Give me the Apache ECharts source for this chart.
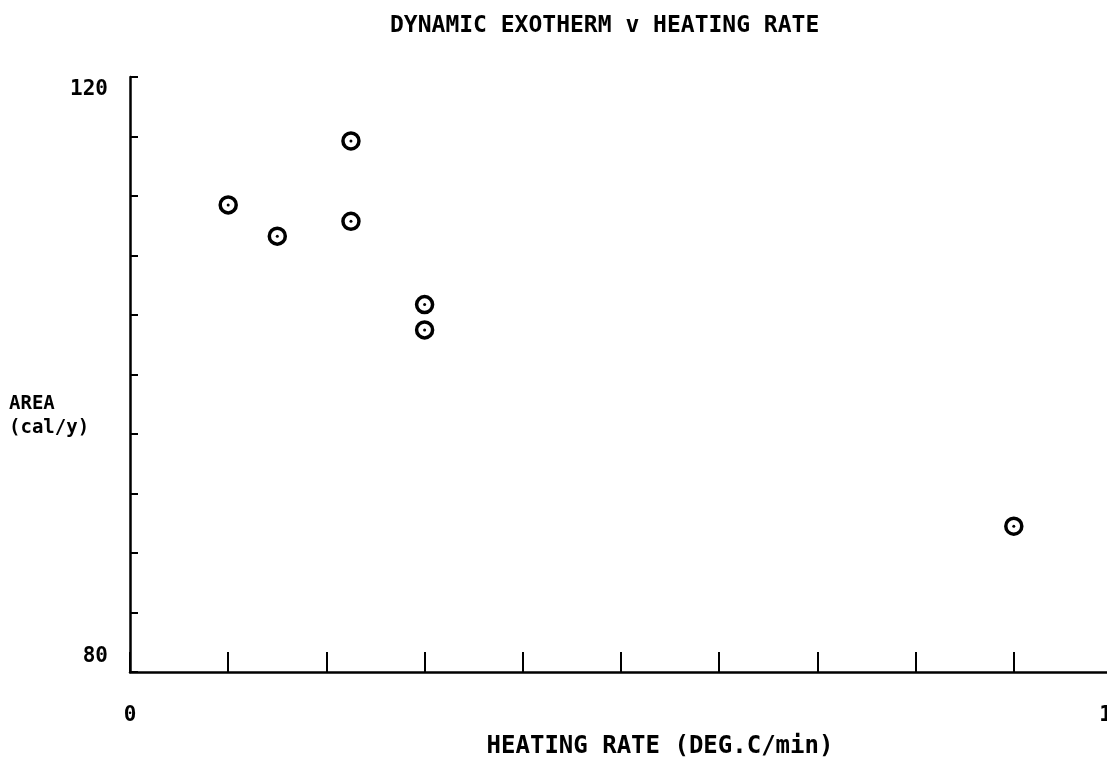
<!DOCTYPE html>
<html>
<head>
<meta charset="utf-8">
<style>
  html, body { margin: 0; padding: 0; background: #fff; }
  #chart { width: 1107px; height: 767px; }
</style>
<script src="https://cdn.jsdelivr.net/npm/echarts@6/dist/echarts.min.js"></script>
</head>
<body>
<div id="chart"></div>
<script>
// Heating rate (DEG.C/min) for each run
const heatingRate = [1, 1.5, 2.25, 2.25, 3, 3, 9];
// Exotherm area (cal/g) for each run
const exothermArea = [111.4, 109.3, 115.7, 110.3, 104.7, 103.0, 89.8];
// Tick values that carry a label
const xTickLabels = [0, 10];
const yTickLabels = [80, 120];

const points = heatingRate.map((x, i) => [x, exothermArea[i]]);
const FONT = '"DejaVu Sans Mono", monospace';

const chart = echarts.init(document.getElementById('chart'));
chart.setOption({
  animation: false,
  backgroundColor: '#fff',
  title: {
    text: 'DYNAMIC EXOTHERM v HEATING RATE',
    left: 385,
    top: 10,
    textStyle: { fontFamily: FONT, fontSize: 23, fontWeight: 'bold', color: '#000' }
  },
  grid: { left: 130, right: -5, top: 77, bottom: 95, outerBoundsMode: 'none', containLabel: false },
  xAxis: {
    type: 'value',
    min: 0, max: 10, interval: 1,
    name: 'HEATING RATE (DEG.C/min)',
    nameLocation: 'middle',
    nameGap: 63,
    nameMoveOverlap: false,
    nameTextStyle: { fontFamily: FONT, fontSize: 24, fontWeight: 'bold', color: '#000', padding: [0, 0, 0, 78] },
    axisLine: { lineStyle: { color: '#000', width: 2.5 } },
    axisTick: { inside: true, length: 20, lineStyle: { color: '#000', width: 2 } },
    axisLabel: {
      margin: 33,
      fontFamily: FONT, fontSize: 21, fontWeight: 'bold', color: '#000',
      formatter: v => xTickLabels.includes(v) ? String(v) : ''
    },
    splitLine: { show: false }
  },
  yAxis: {
    type: 'value',
    min: 80, max: 120, interval: 4,
    name: 'AREA\n(cal/y)',
    nameLocation: 'middle',
    nameRotate: 0,
    nameGap: 121,
    nameMoveOverlap: false,
    nameTextStyle: {
      fontFamily: FONT, fontSize: 19, fontWeight: 'bold', color: '#000',
      align: 'left', verticalAlign: 'top', lineHeight: 24, padding: [18, 0, 0, 0]
    },
    axisLine: { lineStyle: { color: '#000', width: 2.5 } },
    axisTick: { inside: true, length: 8, lineStyle: { color: '#000', width: 2 } },
    axisLabel: {
      margin: 22,
      fontFamily: FONT, fontSize: 21, fontWeight: 'bold', color: '#000',
      formatter: v => v === 120 ? '{top|120}' : (v === 80 ? '{bot|80}' : ''),
      rich: {
        top: { fontFamily: FONT, fontSize: 21, fontWeight: 'bold', color: '#000', padding: [26, 0, 0, 0] },
        bot: { fontFamily: FONT, fontSize: 21, fontWeight: 'bold', color: '#000', padding: [0, 0, 30, 0] }
      }
    },
    splitLine: { show: false }
  },
  series: [
    {
      // open ring of each plotted point
      type: 'scatter',
      data: points,
      symbol: 'circle',
      symbolSize: 16,
      itemStyle: { color: '#fff', borderColor: '#000', borderWidth: 3.5, opacity: 1 }
    },
    {
      // centre dot of each plotted point
      type: 'scatter',
      data: points,
      symbol: 'circle',
      symbolSize: 3,
      itemStyle: { color: '#000', opacity: 1 }
    }
  ]
});
</script>
</body>
</html>
